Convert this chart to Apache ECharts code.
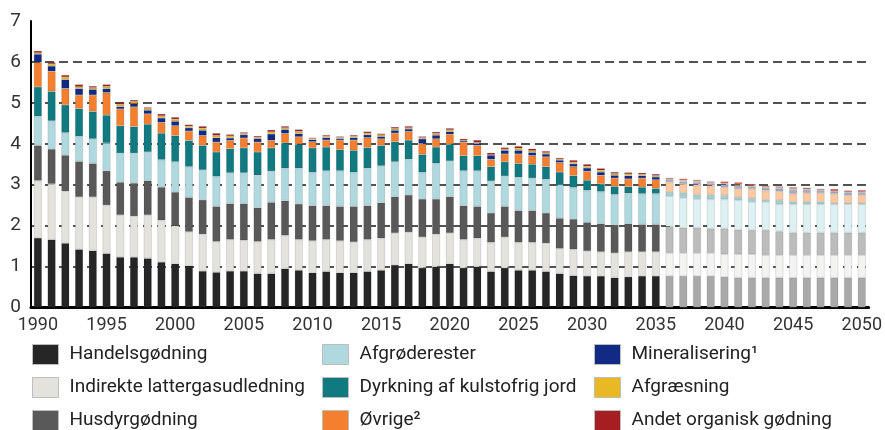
<!DOCTYPE html>
<html>
<head>
<meta charset="utf-8">
<script src="https://cdn.jsdelivr.net/npm/echarts@6/dist/echarts.min.js"></script>
<style>
html,body{margin:0;padding:0;background:#fff;}
#c{width:885px;height:430px;}
</style>
</head>
<body>
<div id="c"></div>
<script>
const years = [];
for (let y = 1990; y <= 2050; y++) years.push(String(y));

const handelsgodning = [1.70,1.66,1.57,1.42,1.39,1.32,1.23,1.23,1.20,1.11,1.07,1.02,0.89,0.86,0.89,0.89,0.83,0.83,0.95,0.91,
 0.85,0.88,0.85,0.85,0.88,0.91,1.04,1.07,0.97,1.00,1.07,0.97,1.00,0.88,0.97,0.91,0.91,0.88,0.83,0.78,
 0.77,0.77,0.73,0.75,0.77,0.77,0.77,0.77,0.77,0.77,0.75,0.73,0.73,0.73,0.73,0.73,0.73,0.73,0.73,0.73,0.73];
const indirekte = [1.40,1.36,1.27,1.28,1.31,1.18,1.03,1.00,1.06,1.02,0.93,0.83,0.90,0.75,0.77,0.75,0.78,0.83,0.81,0.75,
 0.78,0.78,0.78,0.75,0.78,0.78,0.78,0.77,0.75,0.79,0.75,0.69,0.69,0.71,0.75,0.68,0.68,0.69,0.61,0.64,
 0.61,0.59,0.60,0.61,0.59,0.59,0.56,0.56,0.56,0.56,0.55,0.57,0.57,0.55,0.55,0.55,0.55,0.55,0.55,0.55,0.55];
const husdyr = [0.86,0.85,0.88,0.87,0.82,0.84,0.80,0.81,0.84,0.81,0.82,0.84,0.84,0.86,0.88,0.90,0.83,0.91,0.85,0.87,
 0.86,0.83,0.84,0.87,0.83,0.87,0.89,0.91,0.93,0.86,0.89,0.83,0.78,0.72,0.75,0.78,0.78,0.74,0.74,0.74,
 0.70,0.69,0.69,0.69,0.67,0.67,0.65,0.62,0.62,0.60,0.63,0.60,0.59,0.61,0.58,0.55,0.55,0.55,0.55,0.55,0.55];
const afgroderester = [0.71,0.69,0.55,0.61,0.60,0.68,0.71,0.73,0.70,0.67,0.74,0.75,0.73,0.73,0.75,0.75,0.79,0.76,0.79,0.87,
 0.81,0.85,0.87,0.83,0.91,0.90,0.85,0.87,0.65,0.87,0.87,0.85,0.87,0.78,0.74,0.81,0.79,0.82,0.81,0.77,
 0.78,0.78,0.74,0.74,0.75,0.75,0.74,0.73,0.70,0.71,0.71,0.72,0.69,0.69,0.66,0.69,0.69,0.69,0.69,0.69,0.69];
const dyrkning = [0.72,0.72,0.68,0.68,0.67,0.68,0.67,0.65,0.68,0.65,0.64,0.64,0.60,0.60,0.59,0.61,0.57,0.57,0.62,0.59,
 0.60,0.58,0.52,0.54,0.51,0.50,0.49,0.47,0.44,0.40,0.41,0.37,0.37,0.35,0.35,0.34,0.34,0.31,0.32,0.29,
 0.25,0.19,0.20,0.16,0.16,0.13,0.10,0.12,0.11,0.12,0.10,0.08,0.09,0.05,0.10,0.06,0.06,0.06,0.03,0.03,0.03];
const ovrige = [0.60,0.49,0.40,0.33,0.40,0.55,0.41,0.48,0.25,0.26,0.24,0.23,0.24,0.24,0.20,0.24,0.24,0.18,0.23,0.18,
 0.15,0.17,0.23,0.25,0.24,0.16,0.21,0.21,0.26,0.20,0.24,0.33,0.25,0.18,0.19,0.23,0.21,0.24,0.23,0.22,
 0.22,0.21,0.20,0.19,0.22,0.21,0.25,0.22,0.24,0.22,0.20,0.20,0.23,0.23,0.22,0.20,0.22,0.22,0.23,0.19,0.20];
const mineralisering = [0.20,0.13,0.22,0.16,0.14,0.10,0.06,0.08,0.09,0.11,0.11,0.08,0.13,0.11,0.06,0.08,0.09,0.16,0.10,0.08,
 0.05,0.06,0.04,0.06,0.07,0.06,0.07,0.06,0.12,0.09,0.07,0.03,0.05,0.10,0.09,0.09,0.08,0.07,0.06,0.07,
 0.08,0.08,0.07,0.08,0.06,0.07,0.05,0.06,0.06,0.05,0.07,0.07,0.05,0.06,0.07,0.09,0.07,0.05,0.05,0.06,0.05];
const afgraesning = [0.03,0.05,0.06,0.04,0.04,0.05,0.05,0.05,0.04,0.05,0.05,0.04,0.05,0.05,0.05,0.03,0.03,0.05,0.04,0.05,
 0.03,0.03,0.03,0.03,0.04,0.04,0.04,0.03,0.03,0.04,0.04,0.01,0.02,0.01,0.03,0.05,0.04,0.03,0.03,0.04,
 0.04,0.04,0.04,0.04,0.03,0.03,0.02,0.03,0.03,0.02,0.02,0.03,0.03,0.03,0.02,0.03,0.02,0.02,0.01,0.02,0.02];
const andetOrganisk = [0.05,0.04,0.05,0.06,0.04,0.05,0.05,0.04,0.03,0.05,0.05,0.04,0.05,0.06,0.04,0.03,0.03,0.05,0.04,0.05,
 0.02,0.03,0.02,0.03,0.04,0.03,0.04,0.04,0.03,0.04,0.04,0.04,0.06,0.05,0.04,0.05,0.05,0.04,0.03,0.05,
 0.05,0.05,0.04,0.04,0.04,0.04,0.03,0.04,0.03,0.03,0.05,0.06,0.04,0.03,0.03,0.04,0.04,0.03,0.06,0.04,0.05];

const yTicks = ['0','1','2','3','4','5','6','7'];
const lastSolidYear = 2035;

const seriesDefs = [
  {name:'Handelsgødning', data:handelsgodning, color:'#262626', faded:'#a9a9a9'},
  {name:'Indirekte lattergasudledning', data:indirekte, color:'#e4e2dc', faded:'#f3f3f1'},
  {name:'Husdyrgødning', data:husdyr, color:'#595959', faded:'#bcbcbc'},
  {name:'Afgrøderester', data:afgroderester, color:'#b0d9df', faded:'#ddf0f2'},
  {name:'Dyrkning af kulstofrig jord', data:dyrkning, color:'#107a80', faded:'#a3cfd3'},
  {name:'Øvrige²', data:ovrige, color:'#f37f2f', faded:'#fbc9a1'},
  {name:'Mineralisering¹', data:mineralisering, color:'#112b84', faded:'#a3a9cf'},
  {name:'Afgræsning', data:afgraesning, color:'#e8b825', faded:'#f3dc95'},
  {name:'Andet organisk gødning', data:andetOrganisk, color:'#a51e22', faded:'#d96b6b'}
];

const series = seriesDefs.map(s => ({
  name: s.name,
  type: 'bar',
  stack: 'total',
  barWidth: 8,
  itemStyle: {color: s.color, borderColor: 'rgba(0,0,0,0.18)', borderWidth: 0.6},
  emphasis: {disabled: true},
  data: s.data.map((v, i) => ({
    value: v,
    itemStyle: {color: Number(years[i]) > lastSolidYear ? s.faded : s.color}
  }))
}));

const colLeft = [32, 322, 594];
const rowTop = [344, 377, 410];
const legends = seriesDefs.map((s, k) => ({
  left: colLeft[Math.floor(k / 3)],
  top: rowTop[k % 3],
  padding: 0,
  itemWidth: 26,
  itemHeight: 20,
  icon: 'rect',
  itemStyle: {color: s.color, borderColor: '#bdbdbd', borderWidth: 1},
  textStyle: {fontFamily: 'Roboto', fontSize: 19, lineHeight: 20, color: '#222', padding: [0,0,0,6]},
  selectedMode: false,
  data: [s.name]
}));

const chart = echarts.init(document.getElementById('c'), null, {renderer: 'canvas'});
chart.setOption({
  animation: false,
  backgroundColor: '#fff',
  grid: {left: 31, right: 15, top: 21, bottom: 122.5, containLabel: false},
  legend: legends,
  xAxis: {
    type: 'category',
    data: years,
    axisLine: {show: true, lineStyle: {color: '#000', width: 3}},
    axisTick: {show: false},
    axisLabel: {interval: 4, fontFamily: 'Roboto', fontSize: 18, color: '#333', margin: 9}
  },
  yAxis: {
    type: 'value',
    min: 0, max: 7, interval: 1,
    axisLine: {show: true, lineStyle: {color: '#000', width: 2}},
    axisTick: {show: false},
    axisLabel: {fontFamily: 'Roboto', fontSize: 19, color: '#333', margin: 10,
      formatter: v => yTicks[v]},
    splitLine: {show: true, showMinLine: false, showMaxLine: false,
      lineStyle: {color: '#1a1a1a', width: 1.5, type: [9, 5]}}
  },
  series: series
});
</script>
</body>
</html>
